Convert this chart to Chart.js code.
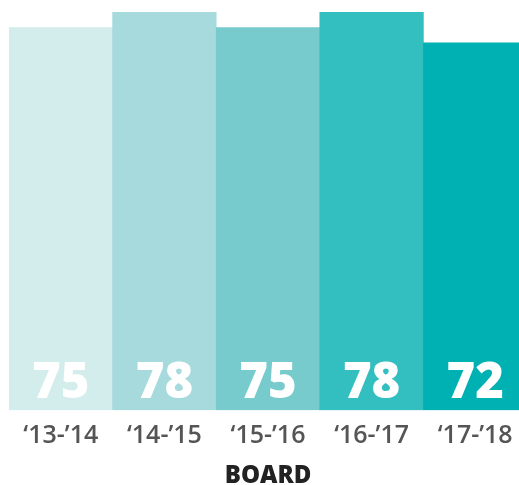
<!DOCTYPE html>
<html>
<head>
<meta charset="utf-8">
<script src="https://cdn.jsdelivr.net/npm/chart.js@4"></script>
<style>
  html, body { margin: 0; padding: 0; background: #fff; overflow: hidden; }
  #wrap { position: relative; width: 527px; height: 491px; }
</style>
</head>
<body>
<div id="wrap"><canvas id="board-chart"></canvas></div>
<script>
// Chart data
const years = ["\u201813-\u201914", "\u201814-\u201915", "\u201815-\u201916", "\u201816-\u201917", "\u201817-\u201918"];
const scores = [75, 78, 75, 78, 72];
const barColors = ['#d3ecec', '#a6dadc', '#77cbcc', '#33bec0', '#00b1b3'];

// Draws the white number near the bottom of each bar
const valueLabels = {
  id: 'valueLabels',
  afterDatasetsDraw(chart) {
    const ctx = chart.ctx;
    const meta = chart.getDatasetMeta(0);
    ctx.save();
    ctx.fillStyle = '#ffffff';
    ctx.font = '800 49px "Open Sans"';
    ctx.textAlign = 'center';
    ctx.textBaseline = 'alphabetic';
    meta.data.forEach((bar, i) => {
      ctx.fillText(String(scores[i]), bar.x, bar.base - 12);
    });
    ctx.restore();
  }
};

function initChart() {
  const ctx = document.getElementById('board-chart').getContext('2d');
  new Chart(ctx, {
    type: 'bar',
    data: {
      labels: years,
      datasets: [{
        data: scores,
        backgroundColor: barColors,
        borderWidth: 0,
        categoryPercentage: 1.0,
        barPercentage: 1.0
      }]
    },
    options: {
      responsive: true,
      maintainAspectRatio: false,
      animation: false,
      layout: { padding: { left: 9, top: 2, right: 0, bottom: 0 } },
      plugins: {
        legend: { display: false },
        tooltip: { enabled: false }
      },
      scales: {
        y: { display: false, min: 0, max: 80 },
        x: {
          grid: { display: false, drawTicks: false },
          border: { display: false },
          ticks: {
            color: '#555555',
            font: { family: '"Open Sans"', size: 25, weight: '600' },
            padding: 11
          },
          title: {
            display: true,
            text: 'BOARD',
            color: '#222222',
            font: { family: '"Open Sans"', size: 24, weight: '800' },
            padding: { top: 0, bottom: 0 }
          }
        }
      }
    },
    plugins: [valueLabels]
  });
}

window.onload = initChart;
</script>
</body>
</html>
